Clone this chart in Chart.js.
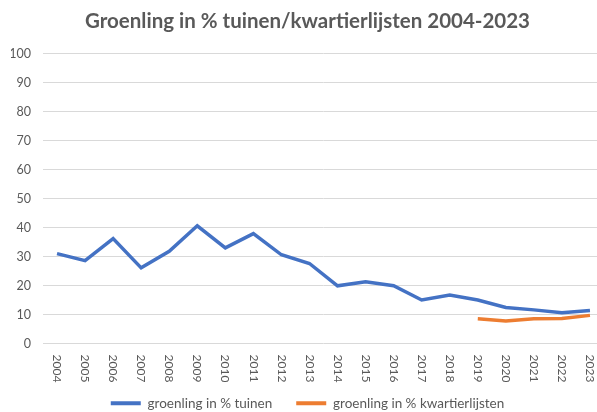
<!DOCTYPE html>
<html>
<head>
<meta charset="utf-8">
<script src="https://cdn.jsdelivr.net/npm/chart.js@4/dist/chart.umd.min.js"></script>
<style>
  html, body { margin: 0; padding: 0; background: #fff; overflow: hidden; }
  #wrap { width: 618px; height: 412px; }
</style>
</head>
<body>
<div id="wrap"><canvas id="groenChart" width="618" height="412"></canvas></div>
<script>
// Data
const years = ['2004', '2005', '2006', '2007', '2008', '2009', '2010', '2011', '2012', '2013',
    '2014', '2015', '2016', '2017', '2018', '2019', '2020', '2021', '2022', '2023'];
const tuinen = [31.0, 28.6, 36.2, 26.1, 31.8, 40.6, 33.0, 37.9, 30.6, 27.6,
    19.9, 21.3, 19.9, 15.0, 16.7, 15.0, 12.4, 11.6, 10.6, 11.4];
const kwartierlijsten = [null, null, null, null, null, null, null, null, null, null,
    null, null, null, null, null, 8.5, 7.8, 8.5, 8.6, 9.7];
const yTicks = [0, 10, 20, 30, 40, 50, 60, 70, 80, 90, 100];

const textColor = '#595959';
const gridColor = '#d9d9d9';

// rotated year labels (top-to-bottom reading), drawn at the x scale's tick positions
const yearLabels = {
    id: 'yearLabels',
    afterDraw(chart) {
        const xs = chart.scales.x;
        const ctx = chart.ctx;
        ctx.save();
        ctx.fillStyle = textColor;
        ctx.font = '12px Lato';
        ctx.textAlign = 'left';
        ctx.textBaseline = 'middle';
        xs.ticks.forEach((t, i) => {
            const x = xs.getPixelForTick(i);
            ctx.save();
            ctx.translate(x, xs.top + 11);
            ctx.rotate(Math.PI / 2);
            ctx.fillText(years[i], 0, 0);
            ctx.restore();
        });
        ctx.restore();
    }
};

const ctx = document.getElementById('groenChart').getContext('2d');
const groenChart = new Chart(ctx, {
    type: 'line',
    data: {
        labels: years,
        datasets: [
            {
                label: 'groenling in % tuinen',
                data: tuinen,
                borderColor: '#4472c4',
                backgroundColor: '#4472c4',
                borderWidth: 3.5,
                pointRadius: 0,
                tension: 0,
            },
            {
                label: 'groenling in % kwartierlijsten',
                data: kwartierlijsten,
                borderColor: '#ed7d31',
                backgroundColor: '#ed7d31',
                borderWidth: 3.5,
                pointRadius: 0,
                tension: 0,
            }
        ]
    },
    options: {
        responsive: false,
        animation: false,
        layout: { padding: { left: 11, right: 14, top: 0, bottom: -8 } },
        scales: {
            x: {
                offset: true,
                grid: { display: false },
                border: { display: false },
                ticks: { color: 'rgba(0,0,0,0)', font: { family: 'Lato', size: 12 }, autoSkip: false },
                afterFit(scale) { scale.height = 29; }
            },
            y: {
                min: 0,
                max: 100,
                afterBuildTicks(scale) { scale.ticks = yTicks.map(v => ({ value: v })); },
                grid: { color: gridColor, lineWidth: 1, drawTicks: false },
                border: { display: false },
                ticks: { color: textColor, font: { family: 'Lato', size: 12.5 }, padding: 12 },
                afterFit(scale) { scale.width = 32; }
            }
        },
        plugins: {
            title: {
                display: true,
                text: 'Groenling in % tuinen/kwartierlijsten 2004-2023',
                color: textColor,
                font: { family: 'Lato', size: 20.5, weight: 'bold' },
                padding: { top: 9, bottom: 20 }
            },
            legend: {
                display: true,
                position: 'bottom',
                labels: {
                    color: textColor,
                    font: { family: 'Lato', size: 13.5 },
                    boxWidth: 30,
                    boxHeight: 4,
                    padding: 24,
                    generateLabels(chart) {
                        const items = Chart.defaults.plugins.legend.labels.generateLabels(chart);
                        items.forEach(it => { it.lineWidth = 0; });
                        return items;
                    }
                }
            },
            tooltip: { enabled: false }
        }
    },
    plugins: [yearLabels]
});
</script>
</body>
</html>
